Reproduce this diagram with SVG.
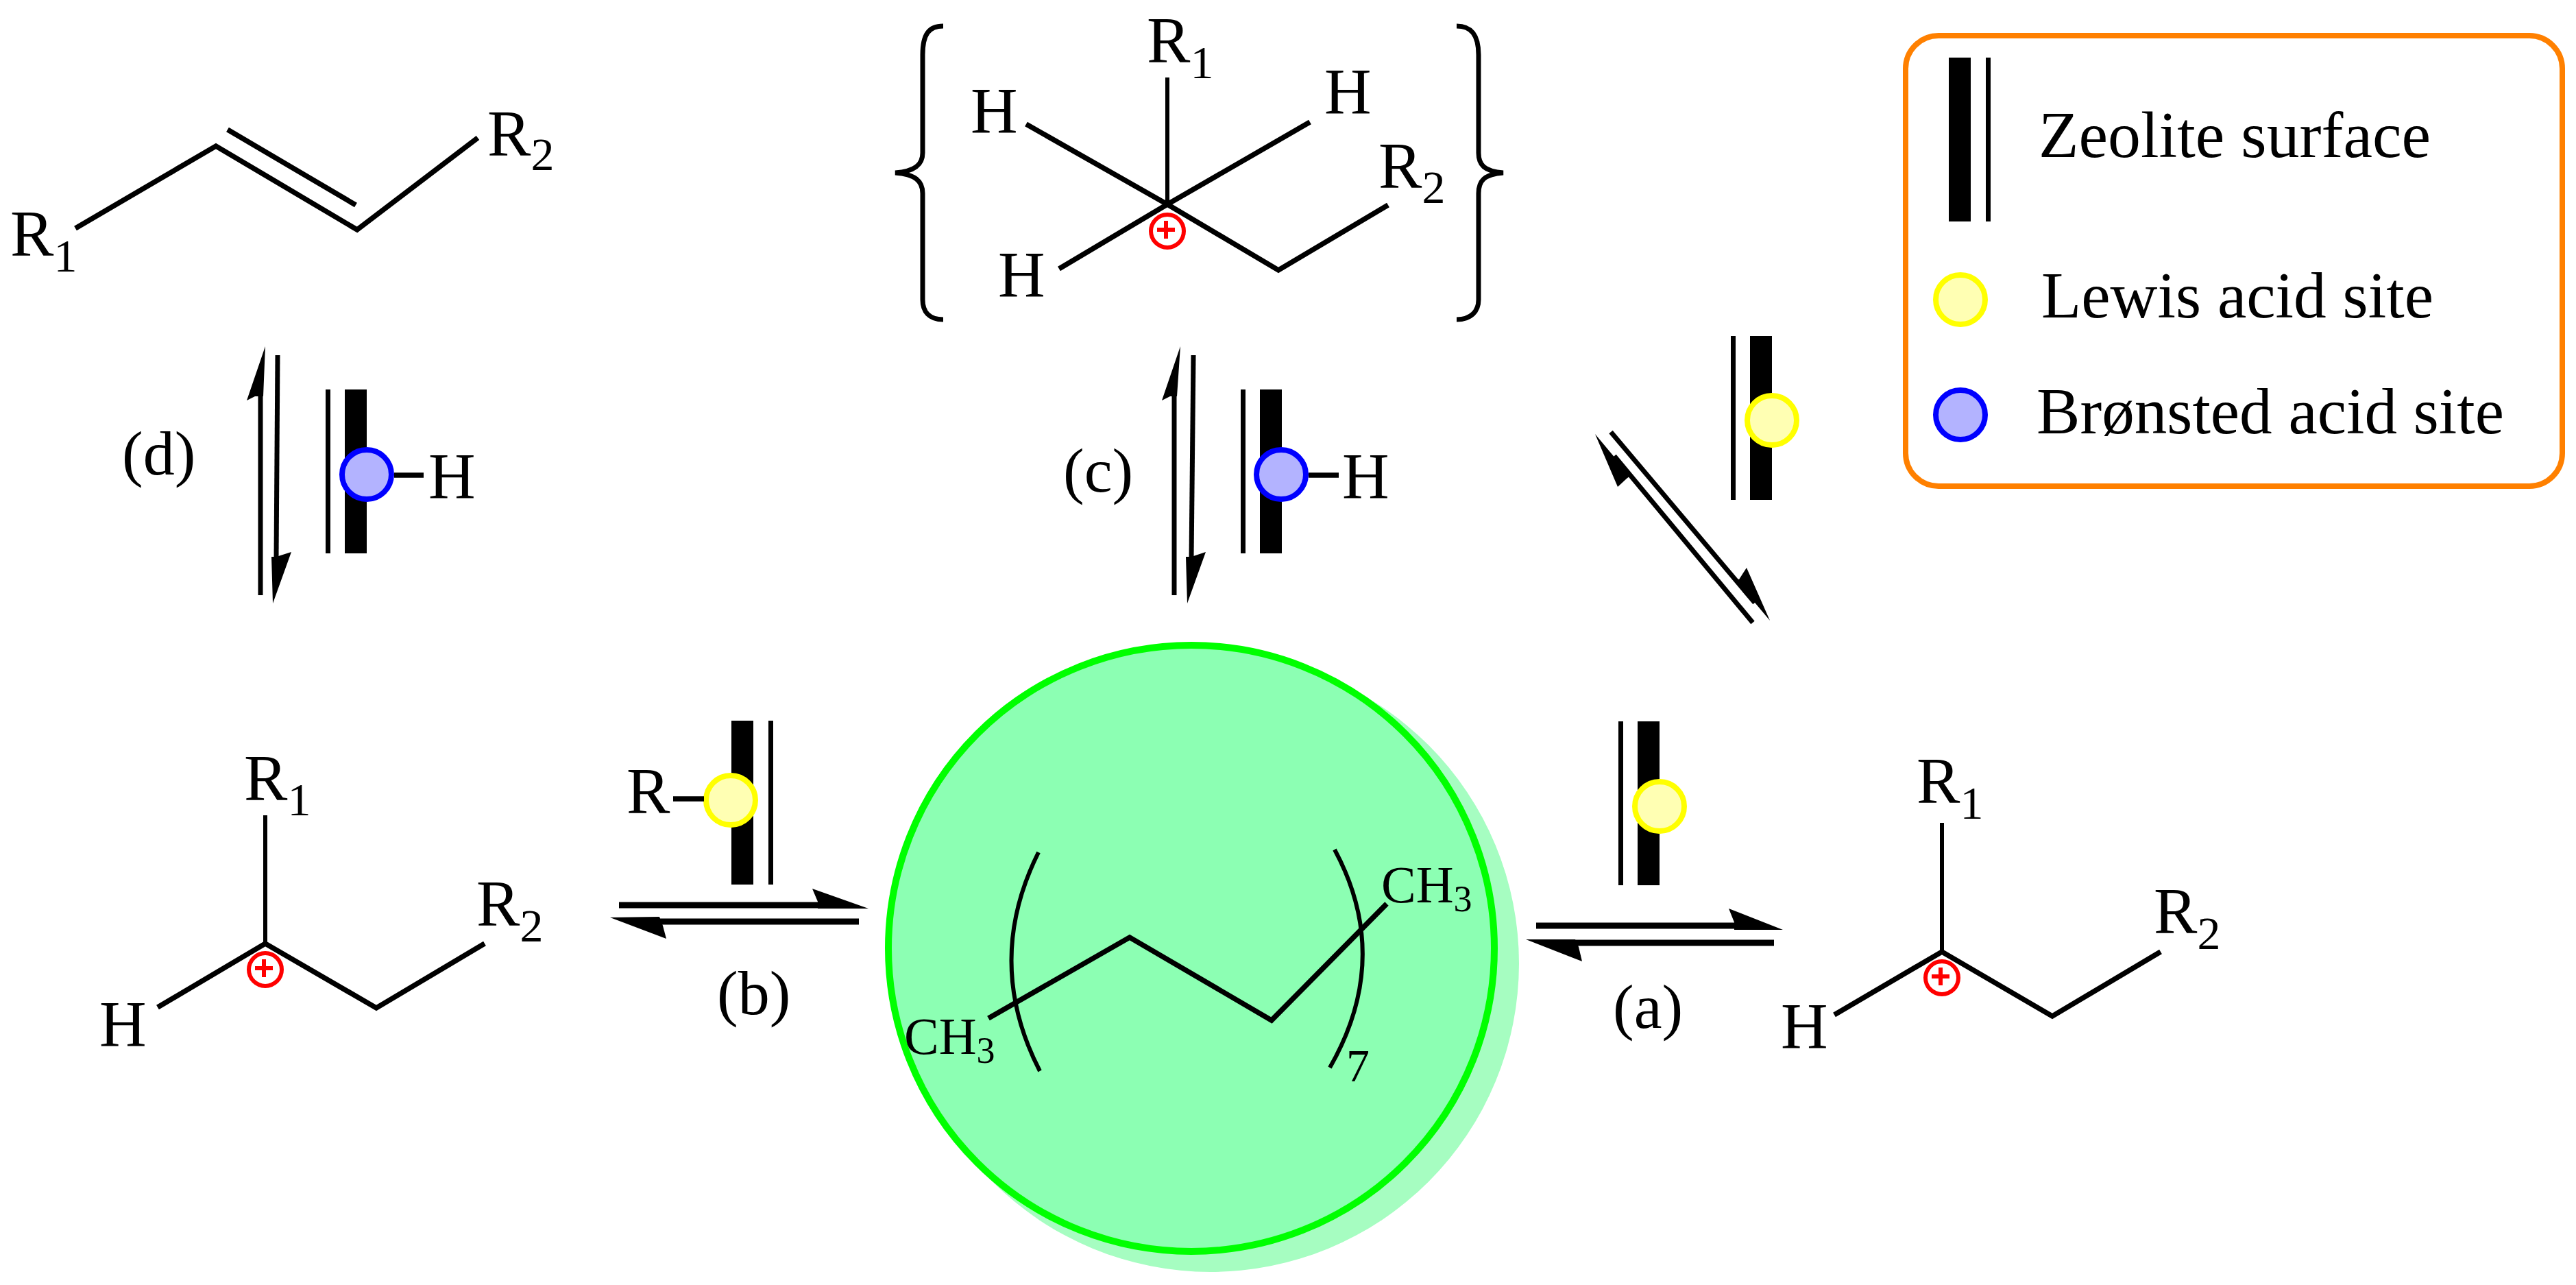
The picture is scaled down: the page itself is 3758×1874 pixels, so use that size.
<svg xmlns="http://www.w3.org/2000/svg" width="3758" height="1874" viewBox="0 0 3758 1874">
<style>
text{font-family:"Liberation Serif","Times New Roman",serif;fill:#000;font-size:95px}
.sub{font-size:68px}
.lab{font-size:92px}
.ch{font-size:76px}
.chs{font-size:54px}
.b{fill:none;stroke:#000;stroke-width:7.5;stroke-linejoin:miter}
.t{fill:none;stroke:#000;stroke-width:6}
.s{stroke:#000;stroke-width:7;fill:none}
.h{stroke:#000;stroke-width:9;fill:none}
.y{fill:#ffffb3;stroke:#ffff00;stroke-width:8}
.bl{fill:#b3b3ff;stroke:#0000ff;stroke-width:8}
.plus{fill:none;stroke:#ff0000;stroke-width:6}
.br{fill:none;stroke:#000;stroke-width:7}
</style>
<defs>
<g id="chg"><circle r="24" class="plus"/><path d="M-15 -2H11M-2 -15V11" class="plus"/></g>
<g id="surfL"><rect x="0" y="0" width="7" height="239"/><rect x="28" y="0" width="32" height="239"/></g>
<g id="surfR"><rect x="0" y="0" width="32" height="239"/><rect x="54" y="0" width="7" height="239"/></g>
</defs>
<rect width="3758" height="1874" fill="#fff"/>

<g id="alkene">
<path class="b" d="M110 333L315 213L521 335L697 201M332 189L519 299"/>
<text x="15" y="373">R<tspan class="sub" dy="23">1</tspan></text>
<text x="711" y="227">R<tspan class="sub" dy="21">2</tspan></text>
</g>

<g id="carbocation-top">
<path class="br" d="M1376 38C1355 38 1346 50 1346 80V223C1346 240 1335 250 1306 252C1335 254 1346 264 1346 282V437C1346 454 1355 466 1376 466"/>
<path class="br" d="M2125 38C2146 38 2157 50 2157 80V223C2157 240 2165 250 2193 252C2165 254 2157 264 2157 282V437C2157 454 2146 466 2125 466"/>
<path class="t" d="M1703 113V297"/>
<path class="b" d="M1497 181L1703 298M1545 392L1703 298M1911 178L1703 298L1865 394L2025 299"/>
<use href="#chg" x="1703" y="337"/>
<text x="1673" y="91">R<tspan class="sub" dy="23">1</tspan></text>
<text x="1416" y="194">H</text>
<text x="1456" y="433">H</text>
<text x="1932" y="166">H</text>
<text x="2011" y="274">R<tspan class="sub" dy="22">2</tspan></text>
</g>

<g id="carbocation-left">
<path class="t" d="M387 1189V1376"/>
<path class="b" d="M230 1469L387 1376L549 1470L707 1376"/>
<use href="#chg" x="387" y="1414"/>
<text x="356" y="1167">R<tspan class="sub" dy="22">1</tspan></text>
<text x="145" y="1526">H</text>
<text x="695" y="1350">R<tspan class="sub" dy="23">2</tspan></text>
</g>

<g id="carbocation-right">
<path class="t" d="M2833 1200V1388"/>
<path class="b" d="M2676 1480L2833 1388L2994 1482L3152 1388"/>
<use href="#chg" x="2833" y="1426"/>
<text x="2796" y="1171">R<tspan class="sub" dy="23">1</tspan></text>
<text x="2598" y="1529">H</text>
<text x="3142" y="1361">R<tspan class="sub" dy="23">2</tspan></text>
</g>

<g id="alkane">
<circle cx="1766" cy="1405" r="450" fill="#a6fdc1"/>
<circle cx="1738" cy="1383" r="442" fill="#8cffb3" stroke="#00ff00" stroke-width="10"/>
<path class="t" d="M1515 1243Q1435 1403 1517 1562M1947 1239Q2032 1397 1940 1557"/>
<path class="b" d="M1442 1485L1648 1367L1855 1488L2023 1318"/>
<text class="ch" x="1319" y="1537">CH<tspan class="chs" dy="13">3</tspan></text>
<text class="ch" x="2015" y="1316">CH<tspan class="chs" dy="13">3</tspan></text>
<text class="sub" x="1964" y="1577">7</text>
</g>

<g id="site-d">
<use href="#surfL" x="475" y="568"/>
<circle class="bl" cx="535" cy="692" r="36"/>
<path class="b" d="M575 693H618"/>
<text x="625" y="727">H</text>
</g>
<g id="site-c">
<use href="#surfL" x="1810" y="568"/>
<circle class="bl" cx="1869" cy="692" r="36"/>
<path class="b" d="M1909 693H1953"/>
<text x="1958" y="727">H</text>
</g>
<g id="site-lewis-top">
<use href="#surfL" x="2525" y="490"/>
<circle class="y" cx="2585" cy="613" r="36"/>
</g>
<g id="site-b">
<use href="#surfR" x="1067" y="1051"/>
<circle class="y" cx="1066" cy="1167" r="36"/>
<path class="b" d="M982 1165H1027"/>
<text x="914" y="1186">R</text>
</g>
<g id="site-a">
<use href="#surfL" x="2361" y="1052"/>
<circle class="y" cx="2421" cy="1176" r="36"/>
</g>

<g id="labels">
<text class="lab" x="178" y="692">(d)</text>
<text class="lab" x="1551" y="717">(c)</text>
<text class="lab" x="1046" y="1479">(b)</text>
<text class="lab" x="2353" y="1499">(a)</text>
</g>

<g id="connectors">
<path class="s" d="M380 868V575"/><polygon points="387,505 360,584 372,578 384,578"/>
<path class="s" d="M405 518L403 815"/><polygon points="398,880 425,805 403,812 396,812"/>
<path class="s" d="M1713 868V575"/><polygon points="1722,505 1695,584 1707,578 1717,578"/>
<path class="s" d="M1741 518L1738 815"/><polygon points="1732,880 1759,805 1738,812 1730,812"/>
<path class="s" d="M2557 908L2355 665"/><polygon points="2327,633 2378,694 2373,698 2360,710"/>
<path class="s" d="M2350 630L2560 879"/><polygon points="2582,905 2530,843 2537,845 2548,828"/>
<path class="h" d="M903 1320H1195"/><polygon points="1267,1325 1185,1296 1193,1315 1193,1325"/>
<path class="h" d="M1253 1344H962"/><polygon points="890,1338 962,1337 967,1350 972,1369"/>
<path class="h" d="M2241 1350H2532"/><polygon points="2601,1356 2522,1325 2530,1345 2530,1356"/>
<path class="h" d="M2588 1375H2298"/><polygon points="2226,1370 2298,1370 2303,1381 2308,1402"/>
</g>

<g id="legend">
<rect x="2780" y="52" width="958" height="657" rx="48" ry="48" fill="#fff" stroke="#ff8000" stroke-width="8"/>
<use href="#surfR" x="2843" y="84"/>
<text x="2974" y="229" textLength="572" lengthAdjust="spacingAndGlyphs">Zeolite surface</text>
<circle class="y" cx="2860" cy="437" r="36"/>
<text x="2978" y="463" textLength="572" lengthAdjust="spacingAndGlyphs">Lewis acid site</text>
<circle class="bl" cx="2860" cy="605" r="36"/>
<text x="2971" y="632" textLength="682" lengthAdjust="spacingAndGlyphs">Brønsted acid site</text>
</g>
</svg>
